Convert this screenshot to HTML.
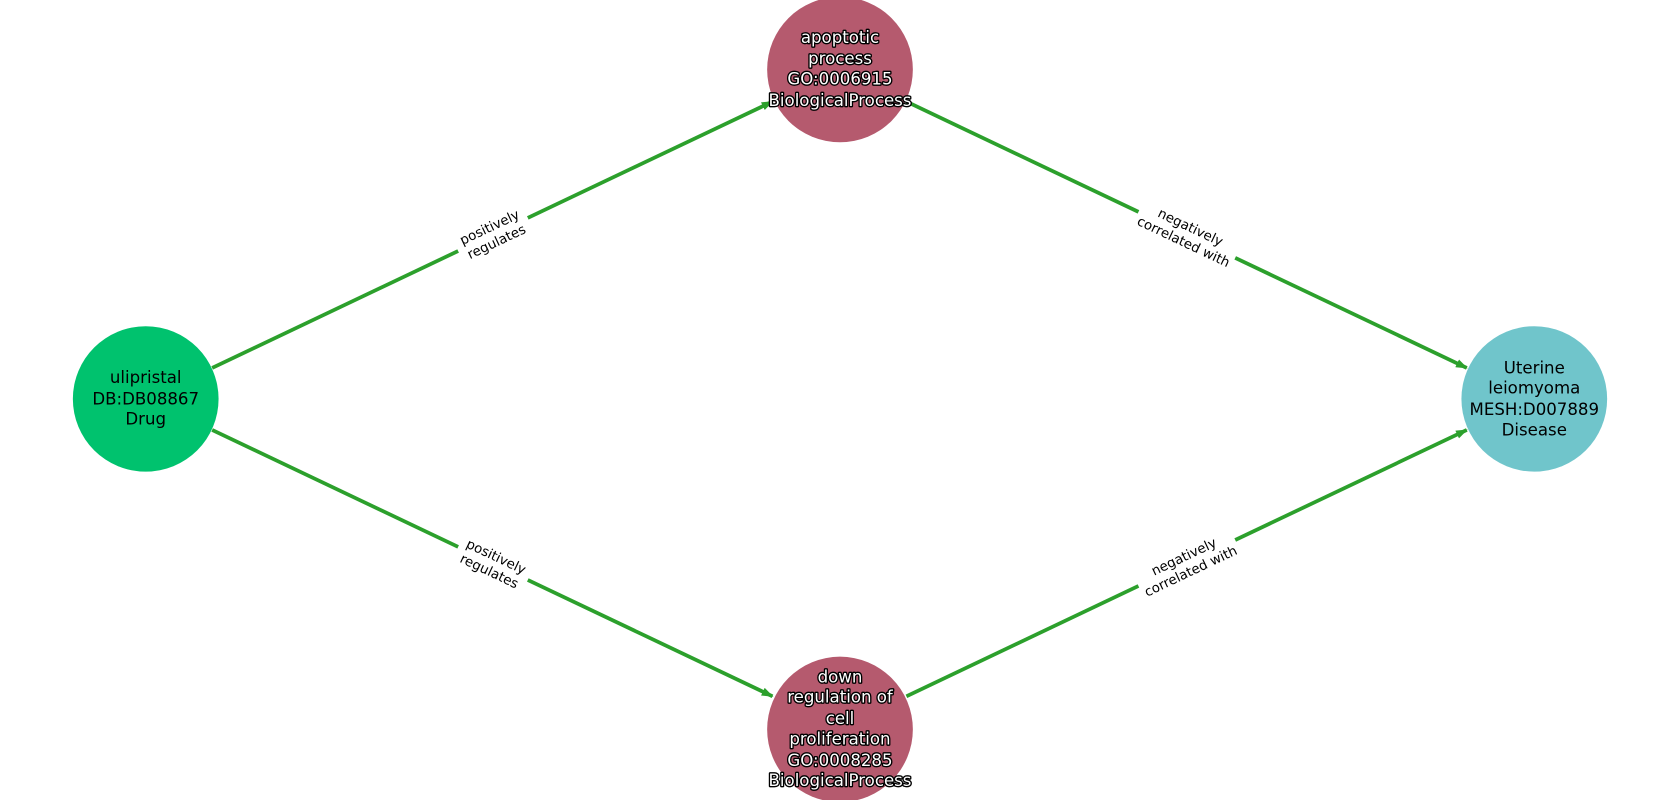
<!DOCTYPE html>
<html><head><meta charset="utf-8"><style>html,body{margin:0;padding:0;background:#fff}svg{display:block}</style></head>
<body>
<svg width="1680" height="800" viewBox="0 0 1568 748" preserveAspectRatio="none" xmlns="http://www.w3.org/2000/svg" font-family="DejaVu Sans, Liberation Sans, sans-serif">
<defs><marker id="a" markerWidth="11" markerHeight="8" refX="10" refY="4" orient="auto" markerUnits="userSpaceOnUse"><path d="M0,0 L11,4 L0,8 z" fill="#2ca02c"/></marker></defs>
<g stroke="#2ca02c" stroke-width="3.5" fill="none">
<line x1="198" y1="344" x2="721" y2="95" marker-end="url(#a)"/>
<line x1="198" y1="402" x2="721" y2="651" marker-end="url(#a)"/>
<line x1="846" y1="95" x2="1369" y2="344" marker-end="url(#a)"/>
<line x1="846" y1="651" x2="1369" y2="402" marker-end="url(#a)"/>
</g>
<circle cx="136" cy="373" r="68" fill="#00c26e"/>
<circle cx="784" cy="65" r="68" fill="#b55a6e"/>
<circle cx="784" cy="682" r="68" fill="#b55a6e"/>
<circle cx="1432" cy="373" r="68" fill="#70c5cb"/>
<g font-size="12.5" text-anchor="middle" fill="#000">
<g transform="translate(460,219) rotate(-25.4)"><rect x="-36" y="-17" width="72" height="34" fill="#fff"/><text y="-3">positively</text><text y="12">regulates</text></g>
<g transform="translate(460,527) rotate(25.4)"><rect x="-36" y="-17" width="72" height="34" fill="#fff"/><text y="-3">positively</text><text y="12">regulates</text></g>
<g transform="translate(1108,219) rotate(25.4)"><rect x="-50" y="-17" width="100" height="34" fill="#fff"/><text y="-3">negatively</text><text y="12">correlated with</text></g>
<g transform="translate(1108,527) rotate(-25.4)"><rect x="-50" y="-17" width="100" height="34" fill="#fff"/><text y="-3">negatively</text><text y="12">correlated with</text></g>
</g>
<g font-size="15.5" text-anchor="middle">
<text fill="#000"><tspan x="136" y="358">ulipristal</tspan><tspan x="136" y="378">DB:DB08867</tspan><tspan x="136" y="397">Drug</tspan></text>
<text fill="#000"><tspan x="1432" y="349">Uterine</tspan><tspan x="1432" y="368">leiomyoma</tspan><tspan x="1432" y="388">MESH:D007889</tspan><tspan x="1432" y="407">Disease</tspan></text>
<g fill="#fff" stroke="#000" stroke-width="2.5" paint-order="stroke" stroke-linejoin="round">
<text><tspan x="784" y="40">apoptotic</tspan><tspan x="784" y="60">process</tspan><tspan x="784" y="79">GO:0006915</tspan><tspan x="784" y="99">BiologicalProcess</tspan></text>
<text><tspan x="784" y="638">down</tspan><tspan x="784" y="657">regulation of</tspan><tspan x="784" y="677">cell</tspan><tspan x="784" y="696">proliferation</tspan><tspan x="784" y="716">GO:0008285</tspan><tspan x="784" y="735">BiologicalProcess</tspan></text>
</g>
</g>
</svg>
</body></html>
